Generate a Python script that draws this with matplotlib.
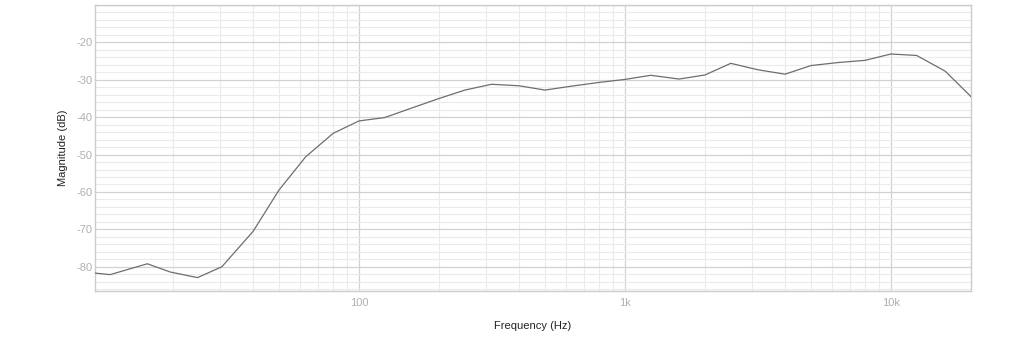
import matplotlib
matplotlib.use("Agg")
import matplotlib.pyplot as plt
from matplotlib.ticker import FixedLocator, NullFormatter, LogLocator

plt.rcParams['font.family'] = ['Liberation Sans', 'DejaVu Sans']

freq_hz = [10.2, 11.6, 16, 19.5, 24.7, 30.5, 40, 50, 63, 80, 100, 125, 160, 200,
           250, 315, 400, 500, 630, 800, 1000, 1250, 1600, 2000, 2500, 3150,
           4000, 5000, 6300, 8000, 10000, 12500, 16000, 20000]
magnitude_db = [-81.7, -82.1, -79.2, -81.4, -82.9, -80.0, -70.5, -59.5, -50.6, -44.3,
                -41.0, -40.1, -37.4, -35.0, -32.75, -31.2, -31.6, -32.75, -31.7, -30.7,
                -29.9, -28.8, -29.8, -28.7, -25.6, -27.3, -28.5, -26.2, -25.4, -24.8,
                -23.1, -23.5, -27.7, -34.5]
x_tick_values = [100, 1000, 10000]
x_tick_labels = ["100", "1k", "10k"]
y_tick_values = [-80, -70, -60, -50, -40, -30, -20]
y_tick_labels = ["-80", "-70", "-60", "-50", "-40", "-30", "-20"]

fig = plt.figure(figsize=(10.24, 3.54), dpi=100)
ax = fig.add_axes([95/1024, 1 - 290.7/354, (971-95)/1024, (290.7-5)/354])

ax.plot(freq_hz, magnitude_db, color="#6e6e6e", linewidth=0.9, zorder=3)

ax.set_xscale("log")
ax.set_xlim(10.17, 20000)
ax.set_ylim(-86.4, -10)

ax.xaxis.set_major_locator(FixedLocator(x_tick_values))
ax.set_xticklabels(x_tick_labels)
ax.xaxis.set_minor_locator(LogLocator(base=10, subs=[1, 2, 3, 4, 5, 6, 7, 8, 9], numticks=20))
ax.xaxis.set_minor_formatter(NullFormatter())

ax.yaxis.set_major_locator(FixedLocator(y_tick_values + [-10]))
ax.set_yticklabels(y_tick_labels + [""])
ax.yaxis.set_minor_locator(FixedLocator([v for v in range(-86, -9, 2)]))

ax.grid(which="major", color="#d2d2d2", linewidth=0.9, zorder=0)
ax.grid(which="minor", color="#ebebeb", linewidth=0.8, zorder=0)
ax.set_axisbelow(True)

ax.tick_params(which="both", length=0)
ax.tick_params(axis="x", pad=5.5, labelsize=8, labelcolor="#b0b0b0")
ax.tick_params(axis="y", pad=1.5, labelsize=8, labelcolor="#b0b0b0")

for s in ax.spines.values():
    s.set_color("#cccccc")
    s.set_linewidth(1.0)

ax.set_xlabel("Frequency (Hz)", fontsize=8, color="#222222")
ax.set_ylabel("Magnitude (dB)", fontsize=8, color="#222222")
ax.xaxis.set_label_coords(0.5, (290.7 - 321) / 285.7)
ax.yaxis.set_label_coords((68 - 95) / 876, 0.5)

fig.savefig("out.png", dpi=100, facecolor="white")
